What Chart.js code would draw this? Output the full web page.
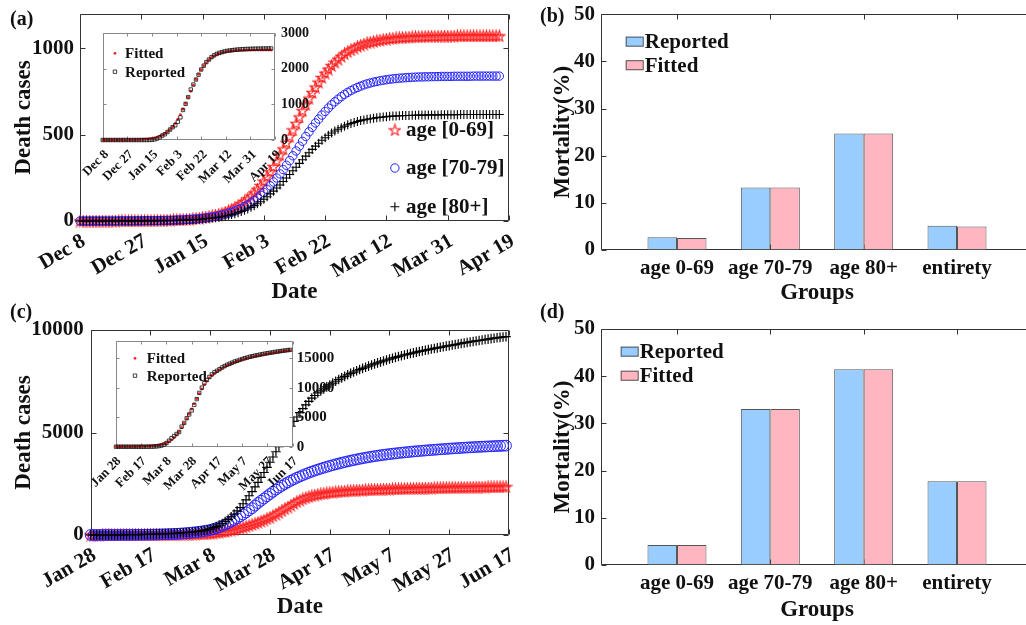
<!DOCTYPE html>
<html>
<head>
<meta charset="utf-8">
<script src="https://cdn.jsdelivr.net/npm/chart.js@4.4.1/dist/chart.umd.min.js"></script>
<style>
  html, body { margin: 0; padding: 0; background: #fff; overflow: hidden; }
  body { width: 1026px; height: 625px; position: relative; }
  canvas { position: absolute; }
  .tag { position: absolute; font: bold 20px "Liberation Serif", serif; line-height: 1; color: #111; }
</style>
</head>
<body>
<canvas id="mainA" width="520" height="310" style="left:0px;top:0px"></canvas>
<canvas id="insetA" width="270" height="175" style="left:60px;top:25px"></canvas>
<canvas id="mainC" width="520" height="315" style="left:0px;top:310px"></canvas>
<canvas id="insetC" width="283" height="175" style="left:70px;top:332px"></canvas>
<canvas id="barB" width="540" height="310" style="left:520px;top:0px"></canvas>
<canvas id="barD" width="540" height="315" style="left:520px;top:310px"></canvas>
<div class="tag" style="left:10px;top:8px">(a)</div>
<div class="tag" style="left:540px;top:5px">(b)</div>
<div class="tag" style="left:10px;top:301px">(c)</div>
<div class="tag" style="left:540px;top:301px">(d)</div>
<script>
// ---------- (a) cumulative deaths by age, one value per day from Dec 8 ----------
const tickDaysA = [0, 19, 38, 57, 76, 95, 114, 133];
const tickLabelsA = ['Dec 8', 'Dec 27', 'Jan 15', 'Feb 3', 'Feb 22', 'Mar 12', 'Mar 31', 'Apr 19'];
const deathsA_0_69 = [
  0,0,0,0,0,0,0,0,0,0, 0,0,1,1,1,1,1,1,1,1, 2,2,2,2,3,3,4,4,5,6,
  7,8,9,10,11,13,15,17,20,23, 26,30,34,39,45,52,59,68,77,88,
  100,113,128,145,163,184,206,231,258,286, 316,349,383,418,454,491,528,566,603,640,
  677,712,745,776,805,832,857,880,901,920, 938,954,969,981,992,1002,1011,1019,1026,1032,
  1037,1041,1045,1049,1052,1055,1057,1059,1061,1063, 1064,1065,1066,1067,1068,1068,1069,1070,1070,1071,
  1071,1071,1072,1072,1072,1072,1072,1073,1073,1073, 1073,1073,1073,1073,1073,1073,1073,1073,1073,1073,1073];
const deathsA_70_79 = [
  0,0,0,0,0,0,0,0,0,0, 0,0,1,1,1,1,1,1,1,1, 2,2,2,2,2,3,3,4,4,5,
  6,6,7,8,9,11,12,14,16,18, 21,24,27,31,35,40,45,51,58,66,
  74,84,94,106,119,133,149,166,184,204, 226,249,273,298,323,350,378,406,434,462,
  490,517,543,568,591,614,635,655,674,691, 706,721,734,746,756,766,774,782,789,795,
  800,805,809,813,816,819,822,824,826,828, 829,831,832,833,834,835,835,836,836,837,
  837,837,838,838,838,838,839,839,839,839, 839,839,840,840,840,840,840,840,840,840,840];
const deathsA_80 = [
  0,0,0,0,0,0,0,0,0,0, 0,0,0,0,0,0,0,1,1,1, 1,1,1,1,2,2,2,2,3,3,
  4,4,5,6,6,7,8,10,11,13, 15,17,19,22,25,29,33,37,42,48,
  55,62,70,79,89,100,112,126,141,157, 173,191,209,229,249,270,291,312,334,355,
  376,396,415,434,451,468,483,497,510,522, 532,541,550,558,565,571,577,582,586,590,
  593,596,599,601,603,605,607,608,609,610, 611,612,612,613,613,614,614,614,615,615,
  615,615,616,616,616,616,616,616,617,617, 617,617,617,617,617,617,617,617,617,617,617];
// inset (a): totals, every second day
const totalFittedA = [
  0,0,0,0,0,0,2,2,2,3, 5,5,7,9,12,17,21,26,35,47,
  62,80,105,137,177,229,292,371,467,583, 715,865,1026,1197,1371,1543,1703,1847,1975,2085,
  2176,2253,2313,2362,2401,2430,2453,2471,2486,2496, 2504,2510,2515,2518,2521,2523,2526,2526,2527,2529,
  2529,2530,2530,2530,2530,2530];
const totalReportedA = [
  0,0,0,0,0,0,0,0,0,0, 0,0,0,0,0,0,0,1,2,6,
  17,40,76,125,162,224,294,362,414,514, 636,844,1016,1206,1420,1560,1700,1836,1982,2090,
  2190,2262,2330,2380,2420,2448,2470,2490,2505,2517, 2526,2535,2542,2548,2553,2557,2560,2563,2565,2567,
  2569,2570,2571,2572,2573,2574];

// ---------- (c) cumulative deaths by age, one value per day from Jan 28 ----------
const tickDaysC = [0, 20, 40, 60, 80, 100, 120, 140];
const tickLabelsC = ['Jan 28', 'Feb 17', 'Mar 8', 'Mar 28', 'Apr 17', 'May 7', 'May 27', 'Jun 17'];
const deathsC_0_69 = [
  0,0,0,0,1,1,1,1,1,1, 2,2,2,3,3,3,4,4,5,5, 6,7,8,9,10,11,12,14,16,18,
  20,24,28,33,38,44,50,57,64,72, 80,96,114,133,152,170,198,228,260,294,
  330,372,416,462,510,560,615,672,731,791, 850,932,1014,1097,1180,1272,1362,1450,1537,1620,
  1700,1762,1818,1870,1910,1947,1980,2005,2029,2050, 2070,2086,2101,2115,2128,2140,2150,2159,2168,2177,
  2185,2192,2198,2204,2210,2215,2220,2225,2230,2235, 2240,2244,2248,2252,2256,2260,2264,2268,2272,2276,
  2280,2283,2286,2289,2292,2295,2298,2301,2304,2307, 2310,2312,2315,2317,2320,2322,2325,2327,2330,2332,
  2335,2337,2339,2342,2344,2346,2349,2351,2353,2356];
const deathsC_70_79 = [
  1,1,1,2,2,2,3,3,4,4, 5,6,7,8,9,10,11,13,15,17, 18,20,23,26,30,34,39,45,52,60,
  70,80,91,103,117,132,150,170,192,215, 245,285,330,380,440,505,575,650,730,815,
  905,1000,1100,1205,1310,1435,1560,1670,1780,1890, 2000,2110,2215,2310,2400,2487,2570,2647,2720,2790,
  2855,2918,2978,3035,3090,3141,3190,3237,3282,3326, 3368,3409,3448,3486,3522,3558,3592,3624,3656,3686,
  3716,3744,3771,3797,3821,3845,3867,3889,3909,3928, 3947,3964,3981,3998,4015,4030,4044,4059,4073,4086,
  4098,4111,4123,4135,4146,4158,4169,4180,4190,4201, 4211,4221,4231,4241,4250,4260,4268,4276,4284,4292,
  4300,4307,4314,4321,4328,4335,4341,4347,4354,4360];
const deathsC_80 = [
  1,1,2,2,3,3,4,5,6,7, 8,10,11,13,15,17,20,23,26,30, 34,38,43,48,54,60,67,74,82,91,
  100,110,121,133,146,161,178,198,222,258, 300,355,410,485,560,660,760,890,1020,1180,
  1340,1525,1710,1915,2120,2345,2570,2810,3050,3300, 3550,3805,4060,4315,4570,4820,5070,5305,5540,5755,
  5970,6160,6350,6515,6680,6805,6930,7030,7130,7225, 7320,7410,7500,7582,7664,7739,7814,7882,7950,8012,
  8074,8129,8184,8239,8294,8349,8396,8443,8490,8537, 8584,8624,8664,8704,8744,8784,8818,8852,8886,8920,
  8954,8983,9012,9041,9070,9099,9127,9155,9183,9211, 9239,9265,9291,9317,9343,9369,9393,9417,9441,9465,
  9489,9511,9533,9555,9577,9599,9619,9639,9659,9679];
// inset (c): totals, every second day
const totalFittedC = [
  2,3,6,8,11,15,20,27,35,46, 58,74,94,118,150,190,240,301,378,478,
  625,854,1152,1533,2010,2575,3226,3940,4745,5561, 6400,7289,8150,9002,9797,10525,11146,11680,12100,12441,
  12758,13049,13314,13556,13774,13975,14153,14325,14483,14629, 14771,14893,15015,15126,15231,15332,15421,15508,15594,15677,
  15760,15837,15913,15986,16055,16124,16186,16249,16309,16366];
const totalReportedC = [
  0,0,0,0,0,0,0,0,0,0, 0,0,1,4,12,29,52,107,197,366,
  631,1016,1441,1809,2158,2503,3405,4032,4825,5476, 6159,7097,8078,9134,10023,10779,11329,11851,12285,12641,
  12893,13155,13452,13679,13917,14089,14267,14457,14585,14750, 14884,15027,15143,15261,15368,15461,15549,15633,15721,15799,
  15882,15949,16018,16089,16154,16218,16279,16338,16393,16441];

// ---------- (b), (d) mortality by group ----------
const groups = ['age 0-69', 'age 70-79', 'age 80+', 'entirety'];
const mortalityReportedB = [2.69, 13.28, 24.72, 5.15];
const mortalityFittedB = [2.54, 13.28, 24.72, 5.01];
const mortalityReportedD = [4.24, 33.05, 41.46, 17.73];
const mortalityFittedD = [4.24, 33.05, 41.46, 17.73];

const FONT = '"Liberation Serif", "Times New Roman", serif';
Chart.defaults.font.family = FONT;
Chart.defaults.font.weight = 'bold';
Chart.defaults.color = '#111';

const RED = '#ff1f1f', BLUE = '#2222ff', BLACK = '#000';

// outlined five-point star used as a point style
function starImage(size, color) {
  const c = document.createElement('canvas');
  c.width = c.height = size;
  const g = c.getContext('2d');
  const R = size / 2 - 0.7, r = R * 0.4;
  g.beginPath();
  for (let k = 0; k < 10; k++) {
    const rr = k % 2 ? r : R, ang = -Math.PI / 2 + k * Math.PI / 5;
    g.lineTo(size / 2 + rr * Math.cos(ang), size / 2 + rr * Math.sin(ang) + 0.5);
  }
  g.closePath();
  g.strokeStyle = color;
  g.lineWidth = 1.1;
  g.stroke();
  return c;
}
const star = starImage(13, RED);

const points = (vals, step = 1) => vals.map((v, i) => ({ x: i * step, y: v }));

// forces the size of an axis box so the plot area lands where it should
const fixSize = (w, h) => (s) => {
  if (w != null) s.width = w;
  if (h != null) s.height = h;
  s.paddingLeft = s.paddingRight = s.paddingTop = s.paddingBottom = 0;
};

// box around the plot area with inward ticks on all four sides
const frame = {
  id: 'frame',
  defaults: { color: '#333', len: 5, fill: null },
  beforeDatasetsDraw(chart, _args, o) {
    const { ctx, chartArea: a, scales } = chart;
    const L = Math.round(a.left) + 0.5, R = Math.round(a.right) - 0.5;
    const T = Math.round(a.top) + 0.5, B = Math.round(a.bottom) - 0.5;
    ctx.save();
    if (o.fill) { ctx.fillStyle = o.fill; ctx.fillRect(a.left, a.top, a.width, a.height); }
    ctx.strokeStyle = o.color;
    ctx.lineWidth = 1;
    ctx.beginPath();
    for (const t of scales.x.ticks) {
      const p = Math.round(scales.x.getPixelForValue(t.value)) + 0.5;
      ctx.moveTo(p, B); ctx.lineTo(p, B - o.len);
      ctx.moveTo(p, T); ctx.lineTo(p, T + o.len);
    }
    for (const t of scales.y.ticks) {
      const p = Math.round(scales.y.getPixelForValue(t.value)) + 0.5;
      ctx.moveTo(L, p); ctx.lineTo(L + o.len, p);
      ctx.moveTo(R, p); ctx.lineTo(R - o.len, p);
    }
    ctx.rect(L, T, R - L, B - T);
    ctx.stroke();
    ctx.restore();
  }
};

function drawMark(ctx, ds, x, y) {
  const s = ds.pointStyle, r = ds.pointRadius;
  ctx.save();
  ctx.strokeStyle = ds.borderColor;
  ctx.fillStyle = ds.backgroundColor;
  ctx.lineWidth = ds.borderWidth || 1;
  if (s instanceof HTMLCanvasElement) {
    ctx.drawImage(s, x - s.width / 2, y - s.height / 2);
  } else if (s === 'circle') {
    ctx.beginPath(); ctx.arc(x, y, r, 0, Math.PI * 2); ctx.fill();
    if (ds.borderWidth) ctx.stroke();
  } else if (s === 'cross') {
    ctx.beginPath();
    ctx.moveTo(x - r, y); ctx.lineTo(x + r, y);
    ctx.moveTo(x, y - r); ctx.lineTo(x, y + r);
    ctx.stroke();
  } else if (s === 'rect') {
    const h = r * Math.SQRT1_2;
    ctx.beginPath(); ctx.rect(x - h, y - h, 2 * h, 2 * h); ctx.fill(); ctx.stroke();
  }
  ctx.restore();
}

// legend drawn inside the plot area: marker + label per dataset
const markLegend = {
  id: 'markLegend',
  afterDatasetsDraw(chart, _args, o) {
    if (!o.items) return;
    const { ctx, chartArea: a } = chart;
    ctx.save();
    ctx.font = o.font;
    ctx.textBaseline = 'middle';
    ctx.fillStyle = '#111';
    for (const it of o.items) {
      const y = a.top + it.fy * a.height;
      drawMark(ctx, chart.data.datasets[it.ds], a.left + o.fxMark * a.width, y);
      ctx.fillText(it.text, a.left + o.fxText * a.width, y + 1);
    }
    ctx.restore();
  }
};

// legend with filled swatches for the bar panels
const swatchLegend = {
  id: 'swatchLegend',
  afterDatasetsDraw(chart, _args, o) {
    const { ctx, chartArea: a } = chart;
    ctx.save();
    ctx.font = 'bold 21px ' + FONT;
    ctx.textBaseline = 'middle';
    chart.data.datasets.forEach((ds, i) => {
      const x = a.left + o.fx * a.width, y = a.top + o.fy[i] * a.height;
      ctx.fillStyle = ds.backgroundColor;
      ctx.fillRect(x, y - 5, 17.6, 10);
      ctx.strokeStyle = ds.borderColor;
      ctx.lineWidth = 1;
      ctx.strokeRect(x + 0.5, y - 4.5, 17, 9);
      ctx.fillStyle = '#111';
      ctx.fillText(ds.label, x + 19, y + 1);
    });
    ctx.restore();
  }
};

function curveChart(id, c) {
  return new Chart(document.getElementById(id), {
    type: 'scatter',
    data: { datasets: c.datasets },
    options: {
      responsive: false,
      animation: false,
      events: [],
      layout: { padding: c.pad },
      plugins: {
        legend: { display: false },
        tooltip: { enabled: false },
        frame: c.frame,
        markLegend: c.legend || {}
      },
      scales: {
        x: {
          type: 'linear', min: c.xMin, max: c.xMax,
          grid: { display: false, drawTicks: false }, border: { display: false },
          afterBuildTicks: (s) => { s.ticks = c.xTicks.map(v => ({ value: v })); },
          afterFit: fixSize(null, c.xh),
          ticks: {
            autoSkip: false, minRotation: c.rot, maxRotation: c.rot,
            padding: c.xPad, labelOffset: c.xOff,
            font: { size: c.xFont }, callback: (v, i) => c.xLabels[i]
          },
          title: c.xTitle ? { display: true, text: c.xTitle, font: { size: 23 }, padding: { top: 0, bottom: 4 } } : { display: false }
        },
        y: {
          type: 'linear', position: c.yPos, min: 0, max: c.yMax,
          grid: { display: false, drawTicks: false }, border: { display: false },
          afterBuildTicks: (s) => { s.ticks = c.yTicks.map(v => ({ value: v })); },
          afterFit: fixSize(c.yw, null),
          ticks: { padding: c.yPad, font: { size: c.yFont }, callback: v => String(v) },
          title: c.yTitle ? { display: true, text: c.yTitle, font: { size: 23 }, padding: { top: 10, bottom: 0 } } : { display: false }
        }
      }
    },
    plugins: [frame, markLegend]
  });
}

function ageSeries(label, vals, style, color, r, w) {
  return {
    label, data: points(vals), pointStyle: style, pointRadius: r,
    borderColor: color, backgroundColor: 'rgba(0,0,0,0)', borderWidth: w, clip: false
  };
}
function totalSeries(fitted, reported, step) {
  return [
    { label: 'Reported', data: points(reported, step), pointStyle: 'rect', pointRadius: 2.4,
      borderColor: '#111', backgroundColor: 'rgba(0,0,0,0)', borderWidth: 0.8, clip: false },
    { label: 'Fitted', data: points(fitted, step), pointStyle: 'circle', pointRadius: 1.4,
      borderColor: RED, backgroundColor: RED, borderWidth: 0, clip: false }
  ];
}

// (a) main
curveChart('mainA', {
  datasets: [
    ageSeries('age [80+]', deathsA_80, 'cross', BLACK, 4.5, 1.1),
    ageSeries('age [70-79]', deathsA_70_79, 'circle', BLUE, 4.2, 1),
    ageSeries('age [0-69]', deathsA_0_69, star, RED, 6, 1)
  ],
  pad: { left: 0, top: 14, right: 11, bottom: 0 },
  xMin: 0, xMax: 133, xTicks: tickDaysA, xLabels: tickLabelsA, xh: 89,
  rot: 30, xPad: 8, xOff: 4, xFont: 21, xTitle: 'Date',
  yPos: 'left', yMax: 1200, yTicks: [0, 500, 1000], yw: 80, yPad: 6, yFont: 21, yTitle: 'Death cases',
  frame: { color: '#333', len: 5 },
  legend: {
    font: 'bold 21px ' + FONT, fxMark: 0.734, fxText: 0.76,
    items: [
      { ds: 2, text: 'age [0-69]', fy: 0.56 },
      { ds: 1, text: 'age [70-79]', fy: 0.744 },
      { ds: 0, text: 'age [80+]', fy: 0.931 }
    ]
  }
});

// (a) inset: total deaths
curveChart('insetA', {
  datasets: totalSeries(totalFittedA, totalReportedA, 2),
  pad: { left: 42.7, top: 8.3, right: 0, bottom: 0 },
  xMin: 0, xMax: 133, xTicks: tickDaysA, xLabels: tickLabelsA, xh: 60,
  rot: 45, xPad: 7, xOff: 4, xFont: 13,
  yPos: 'right', yMax: 3000, yTicks: [0, 1000, 2000, 3000], yw: 55, yPad: 6, yFont: 14,
  frame: { color: '#888', len: 3, fill: '#fff' },
  legend: {
    font: 'bold 15px ' + FONT, fxMark: 0.071, fxText: 0.13,
    items: [{ ds: 1, text: 'Fitted', fy: 0.1875 }, { ds: 0, text: 'Reported', fy: 0.36 }]
  }
});

// (c) main
curveChart('mainC', {
  datasets: [
    ageSeries('age [80+]', deathsC_80, 'cross', BLACK, 4.8, 1.2),
    ageSeries('age [70-79]', deathsC_70_79, 'circle', BLUE, 5.4, 1),
    ageSeries('age [0-69]', deathsC_0_69, star, RED, 6, 1)
  ],
  pad: { left: 0, top: 20, right: 11, bottom: 0 },
  xMin: 0, xMax: 140, xTicks: tickDaysC, xLabels: tickLabelsC, xh: 90,
  rot: 30, xPad: 8, xOff: 4, xFont: 21, xTitle: 'Date',
  yPos: 'left', yMax: 10000, yTicks: [0, 5000, 10000], yw: 90.7, yPad: 7, yFont: 21, yTitle: 'Death cases',
  frame: { color: '#333', len: 5 }
});

// (c) inset: total deaths
curveChart('insetC', {
  datasets: totalSeries(totalFittedC, totalReportedC, 2),
  pad: { left: 46, top: 8.7, right: 0, bottom: 0 },
  xMin: 0, xMax: 140, xTicks: tickDaysC, xLabels: tickLabelsC, xh: 60.3,
  rot: 45, xPad: 7, xOff: 3, xFont: 13,
  yPos: 'right', yMax: 18000, yTicks: [0, 5000, 10000, 15000], yw: 60.3, yPad: 4, yFont: 15,
  frame: { color: '#888', len: 3, fill: '#fff' },
  legend: {
    font: 'bold 15px ' + FONT, fxMark: 0.1075, fxText: 0.174,
    items: [{ ds: 1, text: 'Fitted', fy: 0.166 }, { ds: 0, text: 'Reported', fy: 0.33 }]
  }
});

function barChart(id, reported, fitted, c) {
  const bar = (label, vals, color) => ({
    label, data: vals.map((v, i) => ({ x: i + 1, y: v })),
    backgroundColor: color, borderColor: '#555', borderWidth: 1, borderSkipped: false,
    categoryPercentage: 0.632, barPercentage: 1
  });
  return new Chart(document.getElementById(id), {
    type: 'bar',
    data: { datasets: [bar('Reported', reported, '#99ccff'), bar('Fitted', fitted, '#ffb6c1')] },
    options: {
      responsive: false,
      animation: false,
      events: [],
      layout: { padding: c.pad },
      plugins: {
        legend: { display: false },
        tooltip: { enabled: false },
        frame: { color: '#333', len: 5 },
        swatchLegend: c.legend
      },
      scales: {
        x: {
          type: 'linear', offset: false, min: 0.186, max: 4.814,
          grid: { display: false, drawTicks: false }, border: { display: false },
          afterBuildTicks: (s) => { s.ticks = groups.map((_, i) => ({ value: i + 1 })); },
          afterFit: fixSize(null, 60),
          ticks: { padding: 6, font: { size: 21 }, callback: (v, i) => groups[i] },
          title: { display: true, text: 'Groups', font: { size: 23 }, padding: { top: 0, bottom: c.titlePad } }
        },
        y: {
          min: 0, max: 50,
          grid: { display: false, drawTicks: false }, border: { display: false },
          afterBuildTicks: (s) => { s.ticks = [0, 10, 20, 30, 40, 50].map(v => ({ value: v })); },
          afterFit: fixSize(81, null),
          ticks: { padding: 6, font: { size: 21 } },
          title: { display: true, text: 'Mortality(%)', font: { size: 23 }, padding: { top: 29, bottom: 0 } }
        }
      }
    },
    plugins: [frame, swatchLegend]
  });
}

barChart('barB', mortalityReportedB, mortalityFittedB, {
  pad: { left: 0, top: 14.3, right: 27, bottom: 0 }, titlePad: 3,
  legend: { fx: 0.0572, fy: [0.116, 0.216] }
});
barChart('barD', mortalityReportedD, mortalityFittedD, {
  pad: { left: 0, top: 19, right: 27, bottom: 0 }, titlePad: 1,
  legend: { fx: 0.0456, fy: [0.096, 0.198] }
});
</script>
</body>
</html>
